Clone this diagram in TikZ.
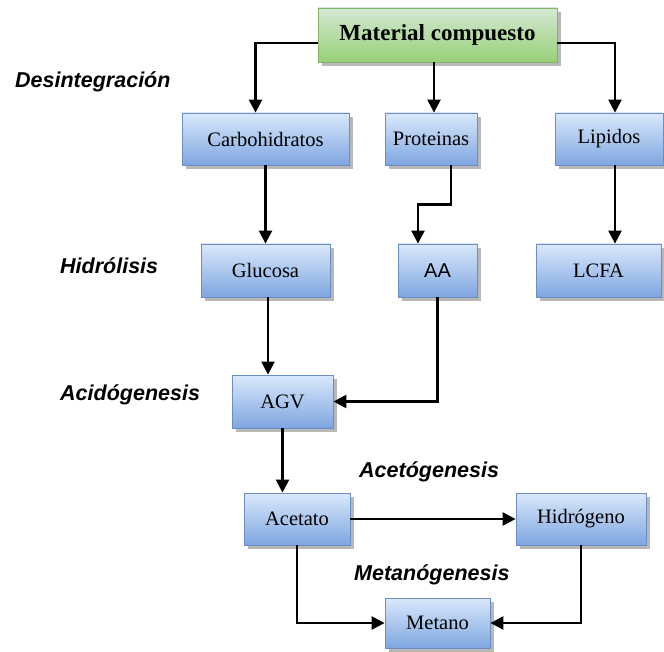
\documentclass[tikz,border=0pt]{standalone}
\usepackage{fontspec}
\setmainfont{Liberation Serif}
\newfontfamily\labfont{Liberation Sans}
\usetikzlibrary{arrows.meta,shadows,calc}
\definecolor{btop}{HTML}{DAE8FC}
\definecolor{bbot}{HTML}{7EA6E0}
\definecolor{bbord}{HTML}{6C8EBF}
\definecolor{gtop}{HTML}{D5E8D4}
\definecolor{gbot}{HTML}{97D077}
\definecolor{gbord}{HTML}{82B366}
\tikzset{
  procbox/.style={draw=bbord, line width=0.8pt, top color=btop, bottom color=bbot, inner sep=0pt,
    drop shadow={shadow xshift=4pt, shadow yshift=-4pt, fill=black!35, opacity=0.8},
    font=\fontsize{20.5}{22}\selectfont},
  mainbox/.style={draw=gbord, line width=0.8pt, top color=gtop, bottom color=gbot, inner sep=0pt,
    drop shadow={shadow xshift=4pt, shadow yshift=-4pt, fill=black!35, opacity=0.8},
    font=\fontsize{23}{25}\selectfont\bfseries},
  stagelab/.style={anchor=west, inner sep=0pt, font=\labfont\fontsize{21.5}{24}\selectfont\bfseries\itshape},
  arr/.style={line width=2.4pt, -{Triangle[length=13pt,width=13pt]}},
}
\begin{document}
\begin{tikzpicture}[x=1pt,y=-1pt]
\useasboundingbox (0,0) rectangle (664,652);
% boxes
\node[mainbox, minimum width=239pt, minimum height=54pt] (mat) at (437.5,35) {Material compuesto};
\node[procbox, minimum width=167pt, minimum height=52pt] (carb) at (265.5,139) {Carbohidratos};
\node[procbox, minimum width=92pt, minimum height=52pt] (prot) at (431,139) {Proteinas};
\node[procbox, minimum width=108pt, minimum height=52pt] (lip) at (609,139) {Lipidos};
\node[procbox, minimum width=129pt, minimum height=53pt] (gluc) at (265.5,270.5) {Glucosa};
\node[procbox, minimum width=79pt, minimum height=53pt, font=\labfont\fontsize{20}{22}\selectfont] (aa) at (437.5,270.5) {AA};
\node[procbox, minimum width=125pt, minimum height=53pt] (lcfa) at (598.5,270.5) {LCFA};
\node[procbox, minimum width=101pt, minimum height=53pt] (agv) at (282.5,401.5) {AGV};
\node[procbox, minimum width=106pt, minimum height=52pt] (acet) at (297,519) {Acetato};
\node[procbox, minimum width=130pt, minimum height=52pt] (hidr) at (581,519) {Hidrógeno};
\node[procbox, minimum width=105pt, minimum height=50pt] (met) at (437.5,623) {Metano};
% stage labels
\node[stagelab] (l1) at (15,82) {Desintegración};
\node[stagelab] (l2) at (60,266) {Hidrólisis};
\node[stagelab] (l3) at (60,395) {Acidógenesis};
\node[stagelab] (l4) at (359,472) {Acetógenesis};
\node[stagelab] (l5) at (354,575) {Metanógenesis};
% connectors
\draw[arr] ([yshift=-8pt]mat.west) -| ([xshift=-10pt]carb.north);
\draw[arr] ([xshift=-3.5pt]mat.south) -- ([xshift=3pt]prot.north);
\draw[arr] ([yshift=-8pt]mat.east) -| ([xshift=6pt]lip.north);
\draw[arr] (carb.south) -- (gluc.north);
\draw[arr] ([xshift=20pt]prot.south) -- ++(0,39) -| ([xshift=-19.5pt]aa.north);
\draw[arr] ([xshift=6pt]lip.south) -- ([xshift=6pt]lip.south |- lcfa.north);
\draw[arr] ([xshift=2.5pt]gluc.south) -- ([xshift=2.5pt]gluc.south |- agv.north);
\draw[arr] (aa.south) |- (agv.east);
\draw[arr] (agv.south) -- (agv.south |- acet.north);
\draw[arr] (acet.east) -- (hidr.west);
\draw[arr] (acet.south) |- (met.west);
\draw[arr] (hidr.south) |- (met.east);
\end{tikzpicture}
\end{document}
